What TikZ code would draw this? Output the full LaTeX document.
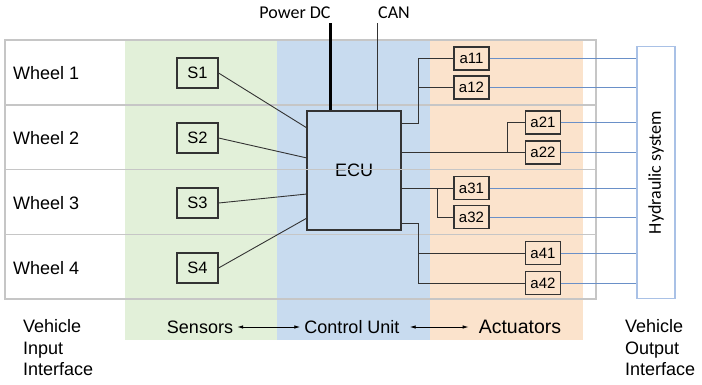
\documentclass[tikz,border=0pt]{standalone}
\usepackage{fontspec}
\setmainfont{Liberation Sans}
\newfontfamily\calibrifont{Carlito}
\usetikzlibrary{arrows.meta}
\definecolor{bgreen}{HTML}{E2F0D9}
\definecolor{bblue}{HTML}{C8DBEF}
\definecolor{borange}{HTML}{FBE3CC}
\definecolor{gridgray}{HTML}{C6C6C6}
\definecolor{hydblue}{HTML}{A9C1E6}
\definecolor{linkblue}{HTML}{6A90C8}
\definecolor{boxline}{HTML}{333333}
\begin{document}
\begin{tikzpicture}[x=1pt,y=-1pt,
  lbl/.style={font=\fontsize{18}{21.5}\selectfont, inner sep=0pt},
  clbl/.style={font=\calibrifont\fontsize{18}{21.5}\selectfont, inner sep=0pt},
  sbox/.style={draw=boxline, line width=1.1pt, minimum width=41pt, minimum height=30pt, inner sep=0pt, font=\fontsize{16.5}{18}\selectfont},
  abox/.style={draw=boxline, line width=1.1pt, minimum width=35pt, minimum height=23pt, inner sep=0pt, font=\fontsize{15}{16}\selectfont},
  wire/.style={boxline, line width=0.9pt},
  hydwire/.style={linkblue, line width=0.9pt},
  gridline/.style={gridgray, line width=1.2pt},
  dblarrow/.style={line width=0.8pt, {Latex[length=6pt,width=3.5pt]}-{Latex[length=6pt,width=3.5pt]}}]
\useasboundingbox (0,0) rectangle (702,384);
% bands
\fill[bgreen] (125,40) rectangle (277,340);
\fill[bblue] (277,40) rectangle (430,340);
\fill[borange] (430,40) rectangle (583,340);
% ECU
\node[draw=boxline, fill=bblue, line width=1.1pt, minimum width=94pt, minimum height=119pt, inner sep=0pt, lbl] (ecu) at (354,170.5) {ECU};
% table grid
\draw[gridline] (5,40) rectangle (596,299);
\draw[gridline] (5,105) -- (596,105);
\draw[gridline] (5,169.5) -- (596,169.5);
\draw[gridline] (5,234.5) -- (596,234.5);
% wheel labels
\node[lbl, anchor=west] (w1) at (13,73) {Wheel 1};
\node[lbl, anchor=west] (w2) at (13,138) {Wheel 2};
\node[lbl, anchor=west] (w3) at (13,203) {Wheel 3};
\node[lbl, anchor=west] (w4) at (13,268) {Wheel 4};
% sensors
\node[sbox] (s1) at (197.5,73) {S1};
\node[sbox] (s2) at (197.5,138) {S2};
\node[sbox] (s3) at (197.5,203) {S3};
\node[sbox] (s4) at (197.5,268) {S4};
\coordinate (ein1) at (307,128);
\coordinate (ein2) at (307,158);
\coordinate (ein3) at (307,194);
\coordinate (ein4) at (307,218);
\draw[wire] (s1.east) -- (ein1);
\draw[wire] (s2.east) -- (ein2);
\draw[wire] (s3.east) -- (ein3);
\draw[wire] (s4.east) -- (ein4);
% power and CAN
\node[clbl] (pwrlbl) at (295,13) {Power DC};
\node[clbl] (canlbl) at (394,13) {CAN};
\coordinate (pwr) at (330,23);
\coordinate (can) at (377,23);
\draw[black, line width=3pt] (pwr) -- (pwr |- ecu.north);
\draw[wire] (can) -- (can |- ecu.north);
% actuators
\node[abox] (a11) at (471.5,58.5) {a11};
\node[abox] (a12) at (471.5,87.5) {a12};
\node[abox] (a21) at (543,122.5) {a21};
\node[abox] (a22) at (543,152.5) {a22};
\node[abox] (a31) at (471.5,188) {a31};
\node[abox] (a32) at (471.5,217) {a32};
\node[abox] (a41) at (543,253) {a41};
\node[abox] (a42) at (543,283) {a42};
% ECU to actuators
\coordinate (j1) at (418,123);
\draw[wire] (ecu.east |- j1) -- (j1) |- (a11.west);
\draw[wire] (j1 |- a12) -- (a12.west);
\coordinate (j2) at (507,152.5);
\draw[wire] (ecu.east |- a22) -- (a22.west);
\draw[wire] (j2) |- (a21.west);
\coordinate (j3) at (437,188);
\draw[wire] (ecu.east |- a31) -- (a31.west);
\draw[wire] (j3) |- (a32.west);
\coordinate (j4) at (418,223);
\draw[wire] (ecu.east |- j4) -- (j4) |- (a42.west);
\draw[wire] (j4 |- a41) -- (a41.west);
% hydraulic system
\node[draw=hydblue, fill=white, line width=1.1pt, minimum width=38pt, minimum height=252pt, inner sep=0pt] (hyd) at (656,172.5) {};
\node[clbl, rotate=90] (hydlbl) at (hyd.center) {Hydraulic system};
\foreach \a in {a11,a12,a21,a22,a31,a32,a41,a42}{
  \draw[hydwire] (\a.east) -- (hyd.west |- \a.east);
}
% bottom labels
\node[lbl, anchor=north west, align=left] (vin) at (23,319.5) {Vehicle\\Input\\Interface};
\node[lbl] (sens) at (200,327) {Sensors};
\node[lbl] (ctrl) at (352,327) {Control Unit};
\node[lbl, font=\fontsize{19.5}{22}\selectfont] (act) at (520,327) {Actuators};
\node[lbl, anchor=north west, align=left] (vout) at (625,319.5) {Vehicle\\Output\\Interface};
\draw[dblarrow, shorten <=4pt, shorten >=4pt] (sens.east) -- (ctrl.west);
\draw[dblarrow, shorten <=10pt, shorten >=10pt] (ctrl.east) -- (act.west);
\end{tikzpicture}
\end{document}
